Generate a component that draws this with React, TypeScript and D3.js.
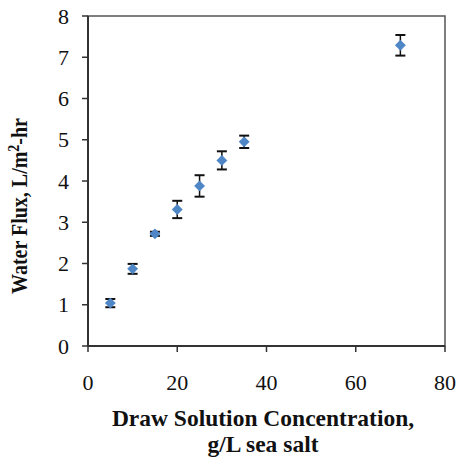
import React from "react";
import * as d3 from "d3";

const concentrations = [5, 10, 15, 20, 25, 30, 35, 70];
const fluxValues = [1.04, 1.87, 2.72, 3.31, 3.88, 4.5, 4.95, 7.29];
const fluxErrors = [0.1, 0.12, 0.05, 0.21, 0.26, 0.22, 0.15, 0.25];
const xTicks = [0, 20, 40, 60, 80];
const yTicks = [0, 1, 2, 3, 4, 5, 6, 7, 8];

const W = 458;
const H = 457;
const left = 88;
const right = 445;
const top = 16;
const bottom = 346;

export default function App() {
  const x = d3.scaleLinear().domain([0, 80]).range([left, right]);
  const y = d3.scaleLinear().domain([0, 8]).range([bottom, top]);
  const font = "'Liberation Serif', 'Times New Roman', serif";
  const diamond = d3.symbol().type(d3.symbolDiamond2).size(75)();
  return (
    <svg width={W} height={H} style={{ position: "absolute", left: 0, top: 0 }}>
      <rect x={0} y={0} width={W} height={H} fill="#fff" />
      <rect x={left} y={top} width={right - left} height={bottom - top} fill="none" stroke="#555" strokeWidth={1.5} />
      <line x1={left} x2={left} y1={top} y2={bottom} stroke="#333" strokeWidth={2} />
      <line x1={left} x2={right} y1={bottom} y2={bottom} stroke="#333" strokeWidth={2} />
      {yTicks.map((t) => (
        <g key={"y" + t}>
          <line x1={left - 6} x2={left} y1={y(t)} y2={y(t)} stroke="#333" strokeWidth={1.5} />
          <text x={left - 19} y={y(t)} dy="0.35em" textAnchor="end" fontFamily={font} fontSize={22} fill="#111">
            {t}
          </text>
        </g>
      ))}
      {xTicks.map((t) => (
        <g key={"x" + t}>
          <line x1={x(t)} x2={x(t)} y1={bottom} y2={bottom + 6} stroke="#333" strokeWidth={1.5} />
          <text x={x(t)} y={390} textAnchor="middle" fontFamily={font} fontSize={22} fill="#111">
            {t}
          </text>
        </g>
      ))}
      {concentrations.map((c, i) => {
        const cx = x(c);
        const yt = y(fluxValues[i] + fluxErrors[i]);
        const yb = y(fluxValues[i] - fluxErrors[i]);
        return (
          <g key={"p" + i}>
            <line x1={cx} x2={cx} y1={yt} y2={yb} stroke="#111" strokeWidth={1.5} />
            <line x1={cx - 5} x2={cx + 5} y1={yt} y2={yt} stroke="#111" strokeWidth={2} />
            <line x1={cx - 5} x2={cx + 5} y1={yb} y2={yb} stroke="#111" strokeWidth={2} />
            <path d={diamond} transform={`translate(${cx},${y(fluxValues[i])})`} fill="#4f86c6" />
          </g>
        );
      })}
      <text
        transform={`translate(27,206) scale(1.2,1) rotate(-90)`}
        textAnchor="middle"
        fontFamily={font}
        fontSize={20}
        fontWeight="bold"
        fill="#111"
      >
        Water Flux, L/m<tspan dy={-7} fontSize={14}>2</tspan><tspan dy={7}>-hr</tspan>
      </text>
      <text x={263} y={426} textAnchor="middle" fontFamily={font} fontSize={23.5} fontWeight="bold" fill="#111">
        Draw Solution Concentration,
      </text>
      <text x={263} y={452} textAnchor="middle" fontFamily={font} fontSize={23.5} fontWeight="bold" fill="#111">
        g/L sea salt
      </text>
    </svg>
  );
}
